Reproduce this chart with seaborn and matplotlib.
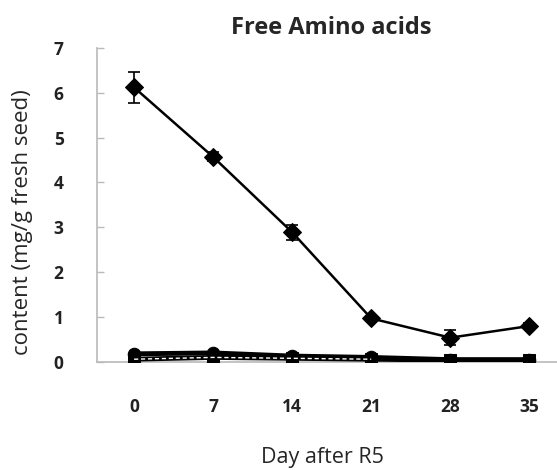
import matplotlib
matplotlib.use("Agg")
import matplotlib.pyplot as plt
import seaborn as sns
import pandas as pd

dias = [0, 7, 14, 21, 28, 35]
libres = [6.12, 4.57, 2.89, 0.97, 0.54, 0.80]
libres_err = [0.35, 0.10, 0.17, 0.06, 0.17, 0.06]
serie_b = [0.18, 0.20, 0.13, 0.10, 0.05, 0.05]
serie_c = [0.06, 0.10, 0.08, 0.06, 0.04, 0.04]

sns.set_theme(style="white")
plt.rcParams['font.family'] = ['Open Sans', 'DejaVu Sans']

df = pd.DataFrame({'pos': range(len(dias)), 'libres': libres,
                   'b': serie_b, 'c': serie_c})

fig = plt.figure(figsize=(5.57, 4.7), dpi=100)
ax = fig.add_axes([0.174, 0.230, 0.826, 0.668])

# Serie principal con barras de error
ax.errorbar(df['pos'], df['libres'], yerr=libres_err, fmt='none',
            ecolor='black', elinewidth=1.2, capsize=4, capthick=1.2, zorder=2)
sns.lineplot(data=df, x='pos', y='libres', color='black', linewidth=1.8,
             marker='D', markersize=9, markeredgecolor='black', ax=ax, zorder=3)
sns.lineplot(data=df, x='pos', y='b', color='black', linewidth=3.5,
             marker='o', markersize=9, markeredgecolor='black', ax=ax, zorder=3)
sns.lineplot(data=df, x='pos', y='c', color='black', linewidth=3.5,
             marker='s', markersize=8, markeredgecolor='black', ax=ax, zorder=4)
ax.plot(df['pos'][:4], df['c'][:4], color='white', linewidth=1,
        linestyle=(0, (3, 2)), zorder=5)

ax.set_xlim(-0.47, 5.35)
ax.set_ylim(0, 7)
ax.set_xticks(range(len(dias)))
ax.set_xticklabels([str(d) for d in dias])
ax.set_yticks(range(0, 8))
ax.tick_params(axis='both', labelsize=12.5, colors='#222222')
for lbl in ax.get_xticklabels() + ax.get_yticklabels():
    lbl.set_fontweight('bold')
ax.tick_params(axis='y', which='major', direction='in', length=5,
               width=1, color='#bbbbbb', left=True, pad=24)
ax.tick_params(axis='x', length=0, pad=26)

for lado in ['top', 'right']:
    ax.spines[lado].set_visible(False)
ax.spines['left'].set_color('#bbbbbb')
ax.spines['bottom'].set_color('#bbbbbb')

ax.set_title("Free Amino acids", fontsize=17, fontweight='bold', pad=10, x=0.51)
ax.set_xlabel("Day after R5", fontsize=15.5)
ax.set_ylabel("content (mg/g fresh seed)", fontsize=16)
ax.xaxis.set_label_coords(0.49, -0.27)
ax.yaxis.set_label_coords(-0.14, 0.446)

plt.savefig("out.png", dpi=100)
